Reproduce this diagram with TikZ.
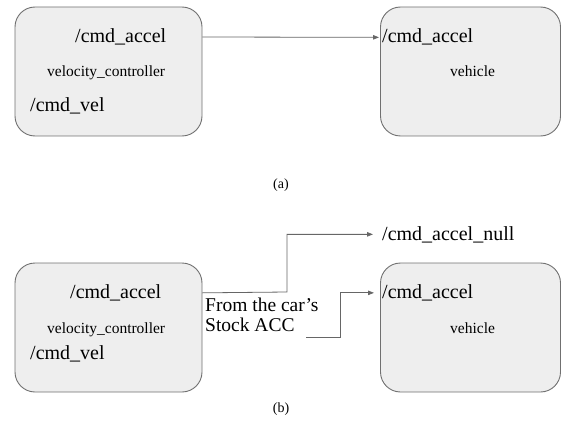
\documentclass[tikz,border=0pt]{standalone}
\usepackage{fontspec}
\setmainfont{Liberation Serif}
\usetikzlibrary{arrows.meta}
\definecolor{boxfill}{HTML}{EEEEEE}
\definecolor{boxline}{HTML}{707070}
\definecolor{arrline}{HTML}{666666}
\begin{document}
\begin{tikzpicture}[x=1pt,y=-1pt,
  procbox/.style={draw=boxline,fill=boxfill,line width=0.9pt,rounded corners=20pt,inner sep=0pt},
  bigtxt/.style={inner sep=0pt,font=\fontsize{20}{22}\selectfont},
  smalltxt/.style={inner sep=0pt,font=\fontsize{15.5}{18}\selectfont},
  captxt/.style={inner sep=0pt,font=\fontsize{14}{16}\selectfont},
  arr/.style={draw=arrline,line width=0.8pt,-{Triangle[length=6pt,width=4.5pt]}}]
\useasboundingbox (0,0) rectangle (562,441);
% ---- (a)
\node[procbox,minimum width=187pt,minimum height=129pt] (lboxa) at (108.5,71.5) {};
\node[procbox,minimum width=180pt,minimum height=129pt] (rboxa) at (470.5,71.5) {};
\node[bigtxt,anchor=base west] (laccela) at (75,43) {/cmd\_accel};
\node[smalltxt,anchor=base west] (lvca) at (47,77) {velocity\_controller};
\node[bigtxt,anchor=base west] (lvela) at (30,112) {/cmd\_vel};
\node[bigtxt,anchor=base west] (raccela) at (382,43) {/cmd\_accel};
\node[smalltxt,anchor=base west] (vehia) at (450,77) {vehicle};
\draw[arr,shorten >=3pt] (lboxa.east |- 0,37) -- (raccela.west);
\node[captxt] (capa) at (281,185) {(a)};
% ---- (b)
\node[procbox,minimum width=187pt,minimum height=129pt] (lboxb) at (108.5,327.5) {};
\node[procbox,minimum width=180pt,minimum height=129pt] (rboxb) at (470.5,327.5) {};
\node[bigtxt,anchor=base west] (laccelb) at (70,298.5) {/cmd\_accel};
\node[smalltxt,anchor=base west] (lvcb) at (47,333) {velocity\_controller};
\node[bigtxt,anchor=base west] (lvelb) at (30,359.5) {/cmd\_vel};
\node[bigtxt,anchor=base west] (raccelb) at (382,298.5) {/cmd\_accel};
\node[smalltxt,anchor=base west] (vehib) at (450,333) {vehicle};
\node[bigtxt,anchor=base west] (nullb) at (382,240) {/cmd\_accel\_null};
\node[inner sep=0pt,anchor=base west,align=left,font=\fontsize{19.5}{20}\selectfont] (stock) at (205,331.5) {From the car’s\\Stock ACC};
\coordinate (stockout) at (306,337);
\draw[arr,shorten >=9pt] (lboxb.east |- laccelb.west) -- (287,292) |- (nullb.west);
\draw[arr,shorten >=8pt] (stockout) -- (340,337) |- (raccelb.west);
\node[captxt] (capb) at (281,409) {(b)};
\end{tikzpicture}
\end{document}
